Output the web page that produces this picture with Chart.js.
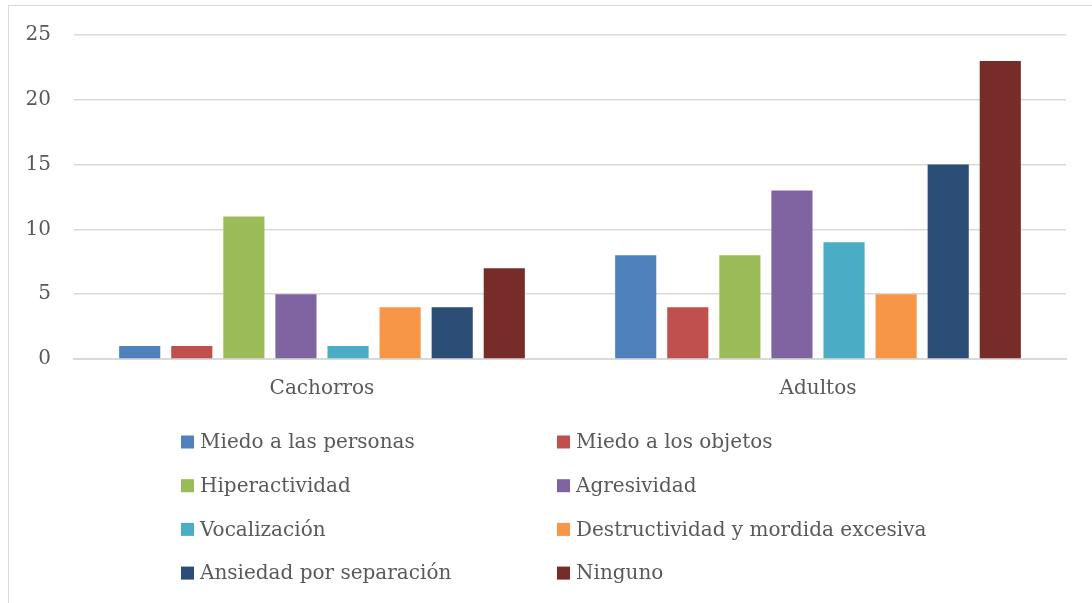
<!DOCTYPE html>
<html>
<head>
<meta charset="utf-8">
<script src="https://cdn.jsdelivr.net/npm/chart.js@4/dist/chart.umd.min.js"></script>
<style>
html,body{margin:0;padding:0;background:#fff;overflow:hidden;}
#wrap{position:relative;width:1092px;height:603px;}
</style>
</head>
<body>
<div id="wrap"><canvas id="c" width="1092" height="603"></canvas></div>
<script>
const categories = ["Cachorros", "Adultos"];
const seriesNames = ["Miedo a las personas", "Miedo a los objetos", "Hiperactividad", "Agresividad", "Vocalización", "Destructividad y mordida excesiva", "Ansiedad por separación", "Ninguno"];
const miedoPersonas = [1, 8];
const miedoObjetos = [1, 4];
const hiperactividad = [11, 8];
const agresividad = [5, 13];
const vocalizacion = [1, 9];
const destructividad = [4, 5];
const ansiedad = [4, 15];
const ninguno = [7, 23];
const yTicks = [0, 5, 10, 15, 20, 25];
const colors = ["#4F81BD", "#C0504D", "#9BBB59", "#8064A2", "#4BACC6", "#F79646", "#2C4D75", "#772C2A"];

const seriesValues = [miedoPersonas, miedoObjetos, hiperactividad, agresividad, vocalizacion, destructividad, ansiedad, ninguno];
const FONT = "'DejaVu Serif', serif";
const TEXT = "#595959";

const frame = {
  id: 'frame',
  beforeDraw(chart) {
    const ctx = chart.ctx;
    ctx.save();
    ctx.fillStyle = '#fff';
    ctx.fillRect(0, 0, chart.width, chart.height);
    ctx.strokeStyle = '#d9d9d9';
    ctx.lineWidth = 1;
    ctx.strokeRect(8.5, 5.5, 1200, 1200);
    ctx.restore();
  }
};

const legendPlugin = {
  id: 'gridLegend',
  afterDraw(chart) {
    const ctx = chart.ctx;
    ctx.save();
    ctx.font = "20px " + FONT;
    ctx.textBaseline = 'middle';
    ctx.textAlign = 'left';
    const colX = [181, 557];
    const rowY0 = 442, rowStep = 43.7;
    chart.data.datasets.forEach((ds, i) => {
      const col = i % 2, row = Math.floor(i / 2);
      const x = colX[col], y = rowY0 + row * rowStep;
      ctx.fillStyle = ds.backgroundColor;
      ctx.fillRect(x, y - 6.5, 13, 13);
      ctx.fillStyle = TEXT;
      ctx.fillText(ds.label, x + 19, y + 1);
    });
    ctx.restore();
  }
};

new Chart(document.getElementById('c'), {
  type: 'bar',
  data: {
    labels: categories,
    datasets: seriesNames.map((n, i) => ({
      label: n,
      data: seriesValues[i],
      backgroundColor: colors[i],
      borderWidth: 0,
      categoryPercentage: 0.84,
      barPercentage: 0.79
    }))
  },
  options: {
    responsive: false,
    animation: false,
    devicePixelRatio: 1,
    layout: { padding: { left: 0, right: 26, top: 35, bottom: 0 } },
    plugins: { legend: { display: false }, tooltip: { enabled: false } },
    scales: {
      x: {
        grid: { display: false, drawTicks: false },
        border: { color: '#d9d9d9', width: 2 },
        ticks: { color: TEXT, font: { family: FONT, size: 20 }, padding: 18 },
        afterFit(s) { s.height = 244; }
      },
      y: {
        min: 0, max: 25,
        afterBuildTicks(s) { s.ticks = yTicks.map(v => ({ value: v })); },
        grid: { color: '#d9d9d9', lineWidth: 1.5, drawTicks: false },
        border: { display: false },
        ticks: { color: TEXT, font: { family: FONT, size: 20 }, padding: 23 },
        afterFit(s) { s.width = 74; }
      }
    }
  },
  plugins: [frame, legendPlugin]
});
</script>
</body>
</html>
